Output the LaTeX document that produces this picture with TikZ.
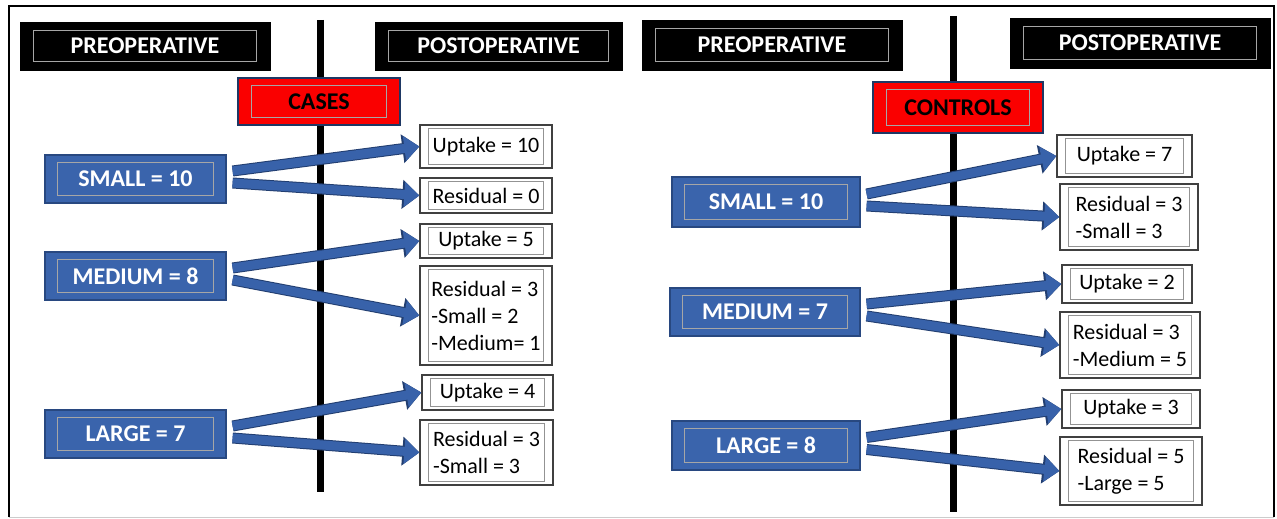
\documentclass[tikz,border=0pt]{standalone}
\usepackage{fontspec}
\setmainfont{Carlito}
\usetikzlibrary{arrows.meta,calc}
\definecolor{boxblue}{RGB}{58,100,172}
\definecolor{boxedge}{RGB}{40,72,128}
\definecolor{arrblue}{RGB}{56,98,170}
\definecolor{arredge}{RGB}{34,62,112}
\definecolor{redfill}{RGB}{250,0,0}
\definecolor{rededge}{RGB}{30,56,100}
\tikzset{
  hdr/.style={fill=black, draw=black, text=white, font=\bfseries\fontsize{24}{28}\selectfont, inner sep=0pt},
  grp/.style={fill=redfill, draw=rededge, line width=1.6pt, text=black, font=\bfseries\fontsize{24}{28}\selectfont, inner sep=0pt},
  pre/.style={fill=boxblue, draw=boxedge, line width=1.2pt, text=white, font=\bfseries\fontsize{24}{28}\selectfont, inner sep=0pt},
  post/.style={fill=white, draw=black!75, line width=1.3pt, text=black, font=\fontsize{22}{27}\selectfont, align=left, inner sep=0pt},
  inrect/.style={draw=gray!70, line width=0.7pt},
  inrectw/.style={draw=gray!85, line width=0.8pt},
  vline/.style={draw=black, line width=7pt},
  barrow/.style={draw=arrblue, line width=9pt, -{Triangle[length=15pt,width=24pt]},
    preaction={draw=arredge, line width=11pt, -{Triangle[length=17pt,width=28pt]}}},
}
\begin{document}
\begin{tikzpicture}[x=1pt,y=-1pt]
\useasboundingbox (0,0) rectangle (1277,519);
\fill[white] (0,0) rectangle (1277,519);
% frame
\draw[gray!40, line width=1pt] (9,517) -- (1274,517);
\draw[black, line width=2pt] (9,517) -- (9,6) -- (1274,6) -- (1274,517);
% vertical lines
\coordinate (vLt) at (320,20);
\coordinate (vLb) at (320,492);
\coordinate (vRt) at (953,16);
\coordinate (vRb) at (953,512);
\draw[vline] (vLt) -- (vLb);
\draw[vline] (vRt) -- (vRb);
% headers
\node[hdr, minimum width=250pt, minimum height=48pt] (preL) at (145,46) {PREOPERATIVE};
\node[hdr, minimum width=247pt, minimum height=48pt] (postL) at (498.5,46) {POSTOPERATIVE};
\node[hdr, minimum width=260pt, minimum height=50pt] (preR) at (772,45) {PREOPERATIVE};
\node[hdr, minimum width=260pt, minimum height=50pt] (postR) at (1140,43) {POSTOPERATIVE};
\foreach \n in {preL,postL,preR,postR}{
  \draw[inrect] ([shift={(14pt,-9pt)}]\n.north west) rectangle ([shift={(-14pt,9pt)}]\n.south east);
}
% group labels
\node[grp, minimum width=162pt, minimum height=47pt] (cases) at (319,101.5) {CASES};
\node[grp, minimum width=170pt, minimum height=51pt] (controls) at (958,107.5) {CONTROLS};
\foreach \n in {cases,controls}{
  \draw[inrect] ([shift={(14pt,-8pt)}]\n.north west) rectangle ([shift={(-14pt,8pt)}]\n.south east);
}
% preoperative sizes
\node[pre, minimum width=181pt, minimum height=48pt] (smallL) at (135.5,179) {SMALL = 10};
\node[pre, minimum width=181pt, minimum height=48pt] (medL) at (135.5,276) {MEDIUM = 8};
\node[pre, minimum width=181pt, minimum height=48pt] (largeL) at (135.5,434) {LARGE = 7};
\node[pre, minimum width=188pt, minimum height=50pt] (smallR) at (766,202) {SMALL = 10};
\node[pre, minimum width=190pt, minimum height=48pt] (medR) at (765,312) {MEDIUM = 7};
\node[pre, minimum width=188pt, minimum height=49pt] (largeR) at (766,445.5) {LARGE = 8};
\foreach \n in {smallL,medL,largeL,smallR,medR,largeR}{
  \draw[inrect] ([shift={(13pt,-8pt)}]\n.north west) rectangle ([shift={(-13pt,8pt)}]\n.south east);
}
% postoperative results (cases)
\node[post, minimum width=132pt, minimum height=43pt] (u1L) at (486,146.5) {Uptake = 10};
\node[post, minimum width=132pt, minimum height=35pt] (r1L) at (486,195.5) {Residual = 0};
\node[post, minimum width=132pt, minimum height=34pt] (u2L) at (486,241) {Uptake = 5};
\node[post, minimum width=132pt, minimum height=99pt] (r2L) at (486,315.5) {Residual = 3\\-Small = 2\\-Medium= 1};
\node[post, minimum width=131pt, minimum height=35pt] (u3L) at (487.5,392.5) {Uptake = 4};
\node[post, minimum width=133pt, minimum height=65pt] (r3L) at (486.5,452.5) {Residual = 3\\-Small = 3};
% postoperative results (controls)
\node[post, minimum width=135pt, minimum height=42pt] (u1R) at (1124.5,156) {Uptake = 7};
\node[post, minimum width=138pt, minimum height=66pt] (r1R) at (1129,217) {Residual = 3\\-Small = 3};
\node[post, minimum width=130pt, minimum height=38pt] (u2R) at (1127,284) {Uptake = 2};
\node[post, minimum width=140pt, minimum height=66pt] (r2R) at (1130,345) {Residual = 3\\-Medium = 5};
\node[post, minimum width=138pt, minimum height=38pt] (u3R) at (1131,409) {Uptake = 3};
\node[post, minimum width=142pt, minimum height=68pt] (r3R) at (1131,471) {Residual = 5\\-Large = 5};
\foreach \n in {u1L,r1L,u2L,r2L,u3L,r3L,u1R,r1R,u2R,r2R,u3R,r3R}{
  \draw[inrectw] ([shift={(9pt,-4pt)}]\n.north west) rectangle ([shift={(-9pt,4pt)}]\n.south east);
}
% arrows
\foreach \s/\u/\r in {smallL/u1L/r1L, medL/u2L/r2L, largeL/u3L/r3L, smallR/u1R/r1R, medR/u2R/r2R, largeR/u3R/r3R}{
  \draw[barrow] ([xshift=6pt,yshift=8pt]\s.east) -- (\u.west);
  \draw[barrow] ([xshift=6pt,yshift=-4pt]\s.east) -- (\r.west);
}
\end{tikzpicture}
\end{document}
